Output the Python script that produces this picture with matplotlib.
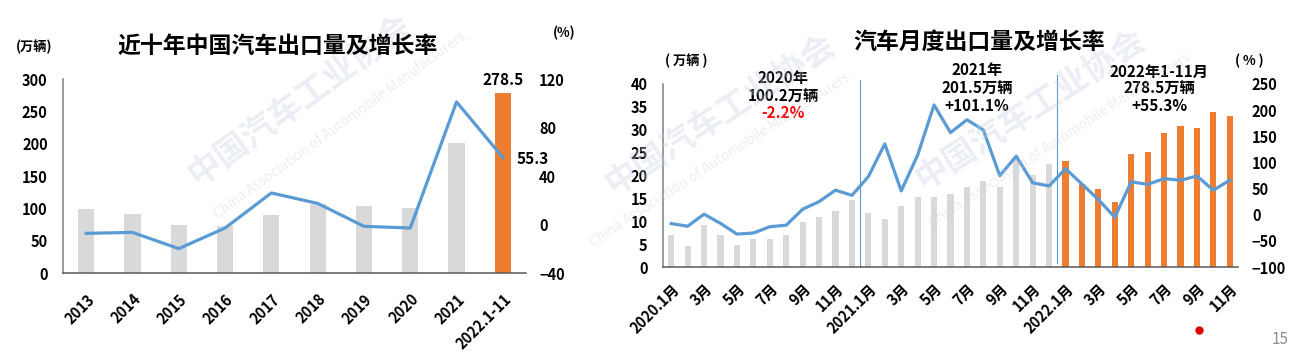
import matplotlib
matplotlib.use('Agg')
import matplotlib.pyplot as plt
from matplotlib.lines import Line2D
import numpy as np

plt.rcParams['font.family'] = ['Noto Sans CJK SC', 'DejaVu Sans']
plt.rcParams['font.weight'] = 'bold'

# left chart: yearly exports (万辆) and growth (%)
years = ['2013', '2014', '2015', '2016', '2017', '2018', '2019', '2020', '2021', '2022.1-11']
year_export = [99, 92, 74, 72, 90, 106, 104, 100, 201.5, 278.5]
year_growth = [-7.3, -6.5, -19.9, -2.9, 26, 17.4, -1.5, -2.9, 101.1, 55.3]

# right chart: monthly exports (万辆) and growth (%)
months = ['2020.1月', '2月', '3月', '4月', '5月', '6月', '7月', '8月', '9月', '10月', '11月', '12月',
          '2021.1月', '2月', '3月', '4月', '5月', '6月', '7月', '8月', '9月', '10月', '11月', '12月',
          '2022.1月', '2月', '3月', '4月', '5月', '6月', '7月', '8月', '9月', '10月', '11月']
month_export = [6.9, 4.5, 9.1, 7.0, 4.9, 6.2, 6.2, 7.1, 9.9, 10.9, 12.2, 14.6,
                11.9, 10.6, 13.3, 15.2, 15.2, 15.9, 17.5, 18.8, 17.4, 23.5, 20.1, 22.5,
                23.2, 18.2, 17.1, 14.2, 24.6, 25.1, 29.2, 30.9, 30.3, 33.9, 33.0]
month_growth = [-17, -22, 1, -16.5, -37, -35, -23, -20, 10.5, 25, 47, 37,
                72.8, 135.5, 45.5, 114, 210, 157, 181.6, 162, 74.7, 112, 61, 55,
                88, 58.7, 29, -5, 63, 58, 69, 66, 74, 47, 66]

GRAY = '#D9D9D9'
ORANGE = '#ED7D31'
BLUE = '#5B9BD5'

fig = plt.figure(figsize=(12.95, 3.54), dpi=100)

# watermarks
wm = '#c5d0e0'
def watermark(cx, cy, angle, scx, scy):
    fig.text(cx / 1295, 1 - cy / 354, '中国汽车工业协会', fontsize=24, color=wm, alpha=0.35,
             rotation=angle, ha='center', va='center', rotation_mode='anchor')
    fig.text(scx / 1295, 1 - scy / 354, 'China Association of Automobile Manufacturers', fontsize=10,
             color=wm, alpha=0.35, rotation=angle, ha='center', va='center', rotation_mode='anchor',
             weight='normal')

watermark(300, 100, 36, 340, 125)
watermark(720, 115, 33, 720, 160)
watermark(1030, 110, 33, 1060, 140)


def style_axes(ax, ax2):
    for s in ['top', 'right']:
        ax.spines[s].set_visible(False)
    for s in ['top', 'right', 'left', 'bottom']:
        ax2.spines[s].set_visible(False)
    ax.spines['left'].set_color('#7f7f7f')
    ax.spines['left'].set_linewidth(1.1)
    ax.spines['bottom'].set_color('#595959')
    ax.spines['bottom'].set_linewidth(1.1)
    ax.set_facecolor('none')
    ax2.set_facecolor('none')


# ---- left chart ----
ax = fig.add_axes([63 / 1295, 1 - 273 / 354, 463 / 1295, 194 / 354])
ax2 = ax.twinx()
x = np.arange(len(years))
colors = [GRAY] * (len(years) - 1) + [ORANGE]
ax.bar(x, year_export, width=0.35, color=colors, zorder=2)
ax2.plot(x, year_growth, color=BLUE, lw=2.3, zorder=3)
ax.set_xlim(-0.5, len(years) - 0.5)
ax.set_ylim(0, 300)
ax.set_yticks(np.arange(0, 301, 50))
ax2.set_ylim(-40, 120)
ax2.set_yticks([-40, 0, 40, 80, 120])
ax.set_xticks(x)
ax.set_xticklabels(years, rotation=45, ha='right', va='top', rotation_mode='anchor')
ax.tick_params(axis='x', length=0, pad=13, labelsize=10.5)
ax.tick_params(axis='y', length=0, pad=11, labelsize=10.5)
ax2.tick_params(axis='y', length=0, pad=9.5, labelsize=10.5)
style_axes(ax, ax2)
ax.text(x[-1], year_export[-1] + 8, '278.5', ha='center', va='bottom', fontsize=11)
ax2.annotate('55.3', (x[-1], year_growth[-1]), xytext=(10, -1), textcoords='offset points',
             ha='left', va='center', fontsize=11)
fig.text(278 / 1295, 1 - 46 / 354, '近十年中国汽车出口量及增长率', fontsize=16.5, ha='center', va='center')
fig.text(34 / 1295, 1 - 47 / 354, '(万辆)', fontsize=9.5, ha='center', va='center')
fig.text(564 / 1295, 1 - 33 / 354, '(%)', fontsize=9.5, ha='center', va='center')

# ---- right chart ----
bx = fig.add_axes([663 / 1295, 1 - 267 / 354, 575 / 1295, 183 / 354])
bx2 = bx.twinx()
m = np.arange(len(months))
mcolors = [GRAY] * 24 + [ORANGE] * 11
bx.bar(m, month_export, width=0.38, color=mcolors, zorder=2)
bx2.plot(m, month_growth, color=BLUE, lw=2.3, zorder=3)
bx.set_xlim(-0.5, len(months) - 0.5)
bx.set_ylim(0, 40)
bx.set_yticks(np.arange(0, 41, 5))
bx2.set_ylim(-100, 250)
bx2.set_yticks(np.arange(-100, 251, 50))
bx.set_xticks(m[::2])
bx.set_xticklabels(months[::2], rotation=45, ha='right', va='top', rotation_mode='anchor')
bx.tick_params(axis='x', length=0, pad=10, labelsize=10.5)
bx.tick_params(axis='y', length=0, pad=11, labelsize=10.5)
bx2.tick_params(axis='y', length=0, pad=10, labelsize=10.5)
style_axes(bx, bx2)

# year separators
bx.plot([11.5, 11.5], [0, 40.9], color=BLUE, lw=0.8, clip_on=False, zorder=1)
bx.plot([23.5, 23.5], [0.8, 42], color=BLUE, lw=0.8, clip_on=False, zorder=1)

bx.text(6.8, 41.3, '2020年', ha='center', va='center', fontsize=11)
bx.text(6.8, 37.4, '100.2万辆', ha='center', va='center', fontsize=11)
bx.text(6.8, 33.6, '-2.2%', ha='center', va='center', fontsize=11, color='#FF0000')
bx.text(18.6, 43.1, '2021年', ha='center', va='center', fontsize=11)
bx.text(18.6, 39.1, '201.5万辆', ha='center', va='center', fontsize=11)
bx.text(18.6, 35.1, '+101.1%', ha='center', va='center', fontsize=11)
bx.text(29.7, 42.6, '2022年1-11月', ha='center', va='center', fontsize=11)
bx.text(29.7, 39.1, '278.5万辆', ha='center', va='center', fontsize=11)
bx.text(29.7, 35.2, '+55.3%', ha='center', va='center', fontsize=11)

fig.text(979 / 1295, 1 - 42 / 354, '汽车月度出口量及增长率', fontsize=16.5, ha='center', va='center')
fig.text(686 / 1295, 1 - 61 / 354, '( 万辆 )', fontsize=9.5, ha='center', va='center')
fig.text(1249 / 1295, 1 - 61 / 354, '( % )', fontsize=9.5, ha='center', va='center')

# page marks
fig.add_artist(Line2D([1199 / 1295], [1 - 330 / 354], marker='o', ms=5, color='#E00000',
                      transform=fig.transFigure))
fig.text(1280 / 1295, 1 - 339 / 354, '15', fontsize=11, color='#8c8c8c', weight='normal',
         ha='center', va='center')

fig.savefig('out.png', dpi=100)
